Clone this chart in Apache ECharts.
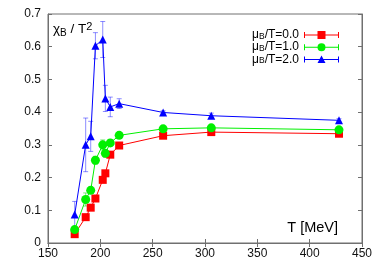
<!DOCTYPE html>
<html><head><meta charset="utf-8">
<script src="https://cdn.jsdelivr.net/npm/echarts@6/dist/echarts.min.js"></script>
<style>html,body{margin:0;padding:0;background:#fff}#c{width:382px;height:267px}</style>
</head><body><div id="c"></div>
<script>
const temps = [175.5, 186, 190.8, 195.3, 202.3, 204.8, 209.5, 218, 260, 306, 428];
const chi0 = [0.027, 0.079, 0.108, 0.136, 0.193, 0.213, 0.270, 0.298, 0.328, 0.339, 0.334];
const err0 = [0.005, 0.006, 0.006, 0.006, 0.008, 0.008, 0.008, 0.006, 0.004, 0.004, 0.004];
const chi1 = [0.041, 0.133, 0.161, 0.253, 0.300, 0.274, 0.306, 0.329, 0.349, 0.352, 0.346];
const err1 = [0.008, 0.020, 0.010, 0.012, 0.015, 0.012, 0.010, 0.008, 0.005, 0.005, 0.005];
const chi2 = [0.087, 0.300, 0.326, 0.603, 0.622, 0.442, 0.416, 0.426, 0.399, 0.389, 0.375];
const err2 = [0.040, 0.082, 0.046, 0.040, 0.055, 0.040, 0.030, 0.015, 0.005, 0.008, 0.005];
const names = ['μB/T=0.0', 'μB/T=1.0', 'μB/T=2.0'];
const xTicks = [150, 200, 250, 300, 350, 400, 450];
const yTicks = [0, 0.1, 0.2, 0.3, 0.4, 0.5, 0.6, 0.7];

const FONT = '"Liberation Sans", Arial, sans-serif';
const colors = ['#ff0000', '#00f000', '#0000ff'];
const errColors = ['rgba(255,0,0,0.5)', 'rgba(0,220,0,0.5)', 'rgba(0,0,255,0.45)'];

function errSeries(vals, errs, color) {
  return {
    type: 'custom', silent: true, z: 1,
    data: temps.map((t, i) => [t, vals[i] - errs[i], vals[i] + errs[i]]),
    encode: {x: 0, y: [1, 2]},
    renderItem(params, api) {
      const x = api.value(0);
      const lo = api.coord([x, api.value(1)]);
      const hi = api.coord([x, api.value(2)]);
      const w = 2.5;
      const st = {stroke: color, lineWidth: 1};
      return {type: 'group', children: [
        {type: 'line', shape: {x1: lo[0], y1: lo[1], x2: hi[0], y2: hi[1]}, style: st},
        {type: 'line', shape: {x1: lo[0] - w, y1: lo[1], x2: lo[0] + w, y2: lo[1]}, style: st},
        {type: 'line', shape: {x1: hi[0] - w, y1: hi[1], x2: hi[0] + w, y2: hi[1]}, style: st}
      ]};
    }
  };
}
function lineSeries(name, vals, color, symbol, size) {
  return {
    name, type: 'line', z: 3, data: temps.map((t, i) => [t, vals[i]]),
    symbol, symbolSize: size, showSymbol: true,
    lineStyle: {color, width: 1}, itemStyle: {color}
  };
}
const base = 'M0,4 L35,4 L35,5 L0,5 Z M0,1.5 L1,1.5 L1,7.5 L0,7.5 Z M34,1.5 L35,1.5 L35,7.5 L34,7.5 Z ';
const icons = [
  'path://' + base + 'M13.5,0.5 L21.5,0.5 L21.5,8.5 L13.5,8.5 Z',
  'path://' + base + 'M17.5,0.5 A4,4 0 1 1 17.49,0.5 Z',
  'path://' + base + 'M17.5,0.5 L21.5,8 L13.5,8 Z'
];

const chart = echarts.init(document.getElementById('c'));
const axisLineStyle = {color: '#707070', width: 1};
chart.setOption({
  animation: false,
  grid: {left: 48, right: 20, top: 14, bottom: 24, show: true, borderColor: '#707070', borderWidth: 1},
  legend: {
    orient: 'vertical', right: 38, top: 24, itemGap: 0, itemWidth: 35, itemHeight: 9, align: 'right',
    data: names.map((n, i) => ({name: n, icon: icons[i]})),
    formatter: n => '{a|μ}{b|B}{a|' + n.slice(2) + '}',
    textStyle: {rich: {
      a: {fontFamily: FONT, fontSize: 12, lineHeight: 12.3, color: '#000'},
      b: {fontFamily: FONT, fontSize: 8.5, lineHeight: 8, verticalAlign: 'bottom', color: '#000'}
    }}
  },
  xAxis: [
    {type: 'value', min: xTicks[0], max: xTicks[xTicks.length - 1], interval: 50,
     axisLine: {show: true, lineStyle: axisLineStyle}, axisTick: {inside: true, length: 4, lineStyle: axisLineStyle},
     splitLine: {show: false},
     axisLabel: {fontFamily: FONT, fontSize: 12, color: '#111', margin: 5}},
    {type: 'value', position: 'top', min: xTicks[0], max: xTicks[xTicks.length - 1], interval: 50,
     axisLine: {show: true, lineStyle: axisLineStyle}, axisTick: {inside: true, length: 4, lineStyle: axisLineStyle},
     splitLine: {show: false}, axisLabel: {show: false}}
  ],
  yAxis: [
    {type: 'value', min: yTicks[0], max: yTicks[yTicks.length - 1], interval: 0.1,
     axisLine: {show: true, lineStyle: axisLineStyle}, axisTick: {show: true, inside: true, length: 4, lineStyle: axisLineStyle},
     splitLine: {show: false},
     axisLabel: {fontFamily: FONT, fontSize: 12, color: '#111', margin: 7,
       formatter: v => v === 0 ? '0' : v.toFixed(1)}},
    {type: 'value', position: 'right', min: yTicks[0], max: yTicks[yTicks.length - 1], interval: 0.1,
     axisLine: {show: true, lineStyle: axisLineStyle}, axisTick: {show: true, inside: true, length: 4, lineStyle: axisLineStyle},
     splitLine: {show: false}, axisLabel: {show: false}}
  ],
  graphic: [
    {type: 'text', left: 53, top: 21, z: 10, style: {
      text: '{a|χ}{b|B}{a| / T}{c|2}', rich: {
        a: {fontFamily: FONT, fontSize: 13.5, lineHeight: 17, fill: '#000'},
        b: {fontFamily: FONT, fontSize: 10, lineHeight: 9, verticalAlign: 'bottom', fill: '#000'},
        c: {fontFamily: FONT, fontSize: 11, lineHeight: 10, verticalAlign: 'top', fill: '#000'}
      }}},
    {type: 'text', right: 44, top: 220, z: 10, style: {
      text: 'T [MeV]', font: '14.5px ' + FONT, fill: '#000'}}
  ],
  series: [
    errSeries(chi0, err0, errColors[0]),
    errSeries(chi1, err1, errColors[1]),
    errSeries(chi2, err2, errColors[2]),
    lineSeries(names[0], chi0, colors[0], 'rect', 8),
    lineSeries(names[1], chi1, colors[1], 'circle', 9),
    lineSeries(names[2], chi2, colors[2], 'triangle', 8)
  ]
});
</script></body></html>
